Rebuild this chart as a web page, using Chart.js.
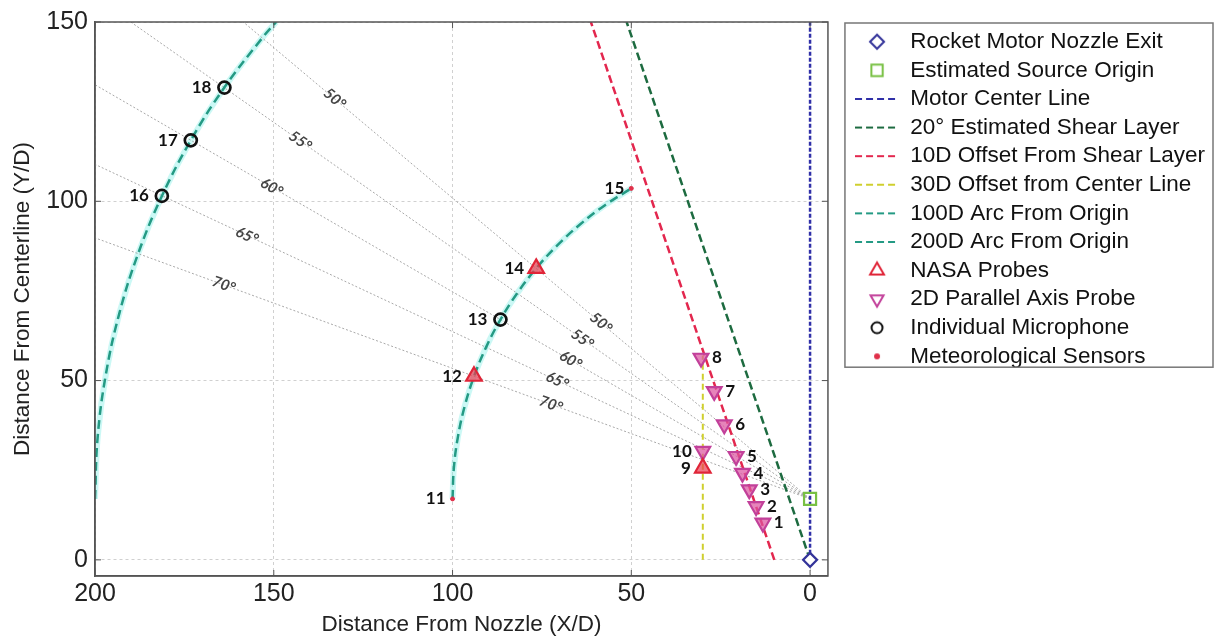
<!DOCTYPE html>
<html>
<head>
<meta charset="utf-8">
<script src="https://cdn.jsdelivr.net/npm/chart.js@4.4.1/dist/chart.umd.min.js"></script>
<style>
  html, body { margin: 0; padding: 0; background: #fff; }
  #wrap { width: 1218px; height: 642px; }
</style>
</head>
<body>
<div id="wrap"><canvas id="layoutChart"></canvas></div>
<script>
// axis ticks
const xTicks = [200, 150, 100, 50, 0];
const yTicks = [0, 50, 100, 150];

// reference geometry (X/D, Y/D)
const nozzleExit = [{x: 0, y: 0}];
const sourceOrigin = [{x: 0, y: 17}];
const motorCenterLine = [{x: 0, y: 0}, {x: 0, y: 150}];
const shearLayer = [{x: 0, y: 0}, {x: 51.3, y: 150}];
const shearOffset = [{x: 10, y: 0}, {x: 61.3, y: 150}];
const centerOffset = [{x: 30, y: 0}, {x: 30, y: 57}];
const arc100 = [
  {x: 100, y: 17}, {x: 99.62, y: 25.72}, {x: 98.48, y: 34.36}, {x: 96.59, y: 42.88},
  {x: 93.97, y: 51.2}, {x: 90.63, y: 59.26}, {x: 86.6, y: 67}, {x: 81.92, y: 74.36},
  {x: 76.6, y: 81.28}, {x: 70.71, y: 87.71}, {x: 64.28, y: 93.6}, {x: 57.36, y: 98.92},
  {x: 50, y: 103.6}
];
const arc200 = [
  {x: 200, y: 17}, {x: 199.24, y: 34.43}, {x: 196.96, y: 51.73}, {x: 193.19, y: 68.76},
  {x: 187.94, y: 85.4}, {x: 181.26, y: 101.52}, {x: 173.21, y: 117}, {x: 163.83, y: 131.72},
  {x: 153.21, y: 145.56}, {x: 149.34, y: 150}
];

// sensors
const nasaProbes = [{x: 30, y: 25.6}, {x: 94, y: 51.2}, {x: 76.6, y: 81.3}];
const nasaIds = ['9', '12', '14'];
const parallelProbes = [
  {x: 13.2, y: 10.3}, {x: 15.1, y: 14.9}, {x: 17, y: 19.6}, {x: 18.9, y: 24.2},
  {x: 20.7, y: 28.9}, {x: 24, y: 37.7}, {x: 26.8, y: 47}, {x: 30.5, y: 56.3},
  {x: 30, y: 30.3}
];
const parallelIds = ['1', '2', '3', '4', '5', '6', '7', '8', '10'];
const microphones = [{x: 86.6, y: 67}, {x: 181.3, y: 101.5}, {x: 173.2, y: 117}, {x: 163.8, y: 131.7}];
const microphoneIds = ['13', '16', '17', '18'];
const metSensors = [{x: 100, y: 17}, {x: 50, y: 103.6}];
const metIds = ['11', '15'];

// angle rays from the source origin
const rayNames = ['50°', '55°', '60°', '65°', '70°'];
const rayEnds = [{x: 200, y: 184.8}, {x: 200, y: 157}, {x: 200, y: 132.5}, {x: 200, y: 110.3}, {x: 200, y: 89.8}];
const rayLabelsFar = [{x: 133, y: 128.6}, {x: 142.6, y: 116.8}, {x: 150.6, y: 103.9}, {x: 157.5, y: 90.4}, {x: 164, y: 76.7}];
const rayLabelsNear = [{x: 58.5, y: 66.1}, {x: 63.7, y: 61.6}, {x: 67, y: 55.7}, {x: 70.7, y: 50}, {x: 72.5, y: 43.4}];

const FONT = "'Liberation Sans', Arial, sans-serif";
Chart.defaults.font.family = FONT;

function lineSet(label, data, color, dash, extra) {
  return Object.assign({
    label, data, borderColor: color, borderDash: dash, borderWidth: 2.5,
    showLine: true, pointRadius: 0, pointHoverRadius: 0, fill: false, order: 1
  }, extra || {});
}

function markerSet(label, data, style, color, fill, radius, extra) {
  return Object.assign({
    label, data, pointStyle: style, borderColor: color, backgroundColor: fill,
    pointRadius: radius, pointBorderWidth: 2.2, showLine: false, order: 0
  }, extra || {});
}

const datasets = [
  markerSet('Rocket Motor Nozzle Exit', nozzleExit, 'rectRot', '#34349a', '#ffffff', 7, {legendRadius: 7}),
  markerSet('Estimated Source Origin', sourceOrigin, 'rect', '#78c043', 'rgba(255,255,255,0)', 8.5, {legendRadius: 8}),
  lineSet('Motor Center Line', motorCenterLine, '#3030a8', [4, 2]),
  lineSet('20\u00B0 Estimated Shear Layer', shearLayer, '#1d6b40', [8, 4]),
  lineSet('10D Offset From Shear Layer', shearOffset, '#e3274e', [8, 4]),
  lineSet('30D Offset from Center Line', centerOffset, '#cfcf2e', [6, 4], {borderWidth: 2}),
  lineSet('100D Arc From Origin', arc100, '#249a84', [9, 5], {tension: 0.4}),
  lineSet('200D Arc From Origin', arc200, '#249a84', [9, 5], {tension: 0.4}),
  markerSet('NASA Probes', nasaProbes, 'triangle', '#e02538', 'rgba(235,60,80,0.7)', 9,
    {ids: nasaIds, legendRadius: 8, legendFill: 'rgba(255,255,255,0)', gap: 12}),
  markerSet('2D Parallel Axis Probe', parallelProbes, 'triangle', '#c2409a', 'rgba(220,85,160,0.72)', 8.5,
    {rotation: 180, ids: parallelIds, rightIds: ['1', '2', '3', '4', '5', '6', '7', '8'], legendRadius: 7.5,
     legendFill: 'rgba(255,255,255,0)', gap: 11}),
  markerSet('Individual Microphone', microphones, 'circle', '#111111', 'rgba(0,0,0,0)', 6,
    {pointBorderWidth: 2.7, ids: microphoneIds, legendRadius: 5.5, gap: 13}),
  markerSet('Meteorological Sensors', metSensors, 'circle', '#e0304a', '#e0304a', 2,
    {pointBorderWidth: 1, ids: metIds, legendRadius: 2, gap: 7})
];

// gray rays, not in legend
rayEnds.forEach((end, i) => {
  datasets.push(lineSet(rayNames[i] + ' ray', [sourceOrigin[0], end], '#a8a8a8', [2, 2],
    {borderWidth: 1, order: 2, noLegend: true}));
});
// light cyan band under the arcs
[arc100, arc200].forEach(arc => {
  datasets.push(lineSet('arc band', arc, 'rgba(130,238,232,0.42)', [], {borderWidth: 6, tension: 0.4, order: 3, noLegend: true}));
});

function legendIcon(ds) {
  const c = document.createElement('canvas');
  c.width = 44; c.height = 22;
  const g = c.getContext('2d');
  g.strokeStyle = ds.borderColor;
  if (ds.showLine) {
    g.lineWidth = 2;
    g.setLineDash([7, 4]);
    g.beginPath(); g.moveTo(0, 11); g.lineTo(44, 11); g.stroke();
  } else {
    g.fillStyle = ds.legendFill || ds.backgroundColor;
    g.lineWidth = 2;
    Chart.helpers.drawPoint(g, {pointStyle: ds.pointStyle, rotation: ds.rotation || 0,
      radius: ds.legendRadius, borderWidth: 2}, 22, 11);
  }
  return c;
}

const pointLabels = {
  id: 'pointLabels',
  afterDatasetsDraw(chart) {
    const ctx = chart.ctx;
    ctx.save();
    ctx.font = "bold 17px Lato, 'Open Sans', sans-serif";
    ctx.fillStyle = '#111';
    ctx.textBaseline = 'middle';
    chart.data.datasets.forEach((ds, i) => {
      if (!ds.ids) return;
      chart.getDatasetMeta(i).data.forEach((pt, j) => {
        const id = ds.ids[j];
        const right = ds.rightIds && ds.rightIds.includes(id);
        ctx.textAlign = right ? 'left' : 'right';
        ctx.fillText(id, pt.x + (right ? ds.gap : -ds.gap), pt.y);
      });
    });
    ctx.restore();
  }
};

const rayLabels = {
  id: 'rayLabels',
  afterDatasetsDraw(chart) {
    const {ctx, scales: {x, y}} = chart;
    const o = sourceOrigin[0];
    ctx.save();
    ctx.font = "italic bold 15px Lato, sans-serif";
    ctx.fillStyle = '#444';
    ctx.textAlign = 'center';
    ctx.textBaseline = 'middle';
    rayNames.forEach((name, i) => {
      const ang = Math.atan2(y.getPixelForValue(o.y) - y.getPixelForValue(rayEnds[i].y),
                             x.getPixelForValue(o.x) - x.getPixelForValue(rayEnds[i].x));
      [rayLabelsFar[i], rayLabelsNear[i]].forEach(p => {
        ctx.save();
        ctx.translate(x.getPixelForValue(p.x), y.getPixelForValue(p.y));
        ctx.rotate(ang);
        ctx.fillText(name, 0, 0);
        ctx.restore();
      });
    });
    ctx.restore();
  }
};

// axes box with inward ticks, plus the legend frame
const frame = {
  id: 'frame',
  afterDraw(chart) {
    const {ctx, chartArea: a, legend, scales: {x, y}} = chart;
    ctx.save();
    ctx.strokeStyle = '#555';
    ctx.lineWidth = 1.5;
    ctx.strokeRect(a.left, a.top, a.right - a.left, a.bottom - a.top);
    ctx.lineWidth = 1;
    ctx.beginPath();
    xTicks.forEach(v => {
      const px = x.getPixelForValue(v);
      ctx.moveTo(px, a.bottom); ctx.lineTo(px, a.bottom - 6);
      ctx.moveTo(px, a.top); ctx.lineTo(px, a.top + 6);
    });
    yTicks.forEach(v => {
      const py = y.getPixelForValue(v);
      ctx.moveTo(a.left, py); ctx.lineTo(a.left + 6, py);
      ctx.moveTo(a.right, py); ctx.lineTo(a.right - 6, py);
    });
    ctx.stroke();

    const lab = legend.options.labels;
    const n = legend.legendItems.length;
    const pitch = lab.font.size + lab.padding;
    const bottom = legend.top + lab.padding + (n - 1) * pitch + lab.font.size + 2;
    ctx.strokeStyle = '#777';
    ctx.lineWidth = 1.5;
    ctx.strokeRect(legend.left - 4, legend.top + 1, legend.right - 2 - (legend.left - 4), bottom - legend.top - 1);
    ctx.restore();
  }
};

const layoutCtx = document.getElementById('layoutChart').getContext('2d');
const layoutChart = new Chart(layoutCtx, {
  type: 'scatter',
  data: {datasets},
  options: {
    responsive: true,
    maintainAspectRatio: false,
    animation: false,
    events: [],
    layout: {padding: {top: 22, left: 5, right: 3, bottom: 0}},
    plugins: {
      tooltip: {enabled: false},
      legend: {
        position: 'right',
        align: 'start',
        maxWidth: 420,
        title: {display: true, text: ' ', font: {size: 2}, padding: 0},
        labels: {
          usePointStyle: true,
          pointStyleWidth: 44,
          padding: 6.1,
          font: {size: 22.5, family: FONT},
          generateLabels(chart) {
            return chart.data.datasets
              .map((ds, i) => ({
                text: ds.label, datasetIndex: i, hidden: false,
                pointStyle: legendIcon(ds), fontColor: '#111',
                fillStyle: 'rgba(0,0,0,0)', strokeStyle: 'rgba(0,0,0,0)', lineWidth: 0
              }))
              .filter(item => !chart.data.datasets[item.datasetIndex].noLegend);
          }
        }
      }
    },
    scales: {
      x: {
        type: 'linear',
        reverse: true,
        min: -5,
        max: 200,
        afterBuildTicks: scale => { scale.ticks = xTicks.map(v => ({value: v})); },
        afterFit: scale => { scale.height = 66; },
        ticks: {font: {size: 25}, color: '#222', padding: 3, maxRotation: 0},
        grid: {color: '#d0d0d0', lineWidth: 1, drawTicks: false},
        border: {color: '#555', width: 1.5, dash: [3, 3]},
        title: {display: true, text: 'Distance From Nozzle (X/D)', color: '#222',
                font: {size: 22.5}, padding: {top: 4, bottom: 4}}
      },
      y: {
        type: 'linear',
        min: -4.5,
        max: 150,
        afterBuildTicks: scale => { scale.ticks = yTicks.map(v => ({value: v})); },
        afterFit: scale => { scale.width = 90; },
        ticks: {font: {size: 25}, color: '#222', padding: 7},
        grid: {color: '#d0d0d0', lineWidth: 1, drawTicks: false},
        border: {color: '#555', width: 1.5, dash: [3, 3]},
        title: {display: true, text: 'Distance From Centerline (Y/D)', color: '#222',
                font: {size: 22.5}, padding: {top: 4, bottom: 4}}
      },
      gap: {
        type: 'linear',
        position: 'right',
        display: true,
        grid: {display: false},
        ticks: {display: false},
        border: {display: false},
        afterFit: scale => { scale.width = 21; }
      }
    }
  },
  plugins: [pointLabels, rayLabels, frame]
});
</script>
</body>
</html>
